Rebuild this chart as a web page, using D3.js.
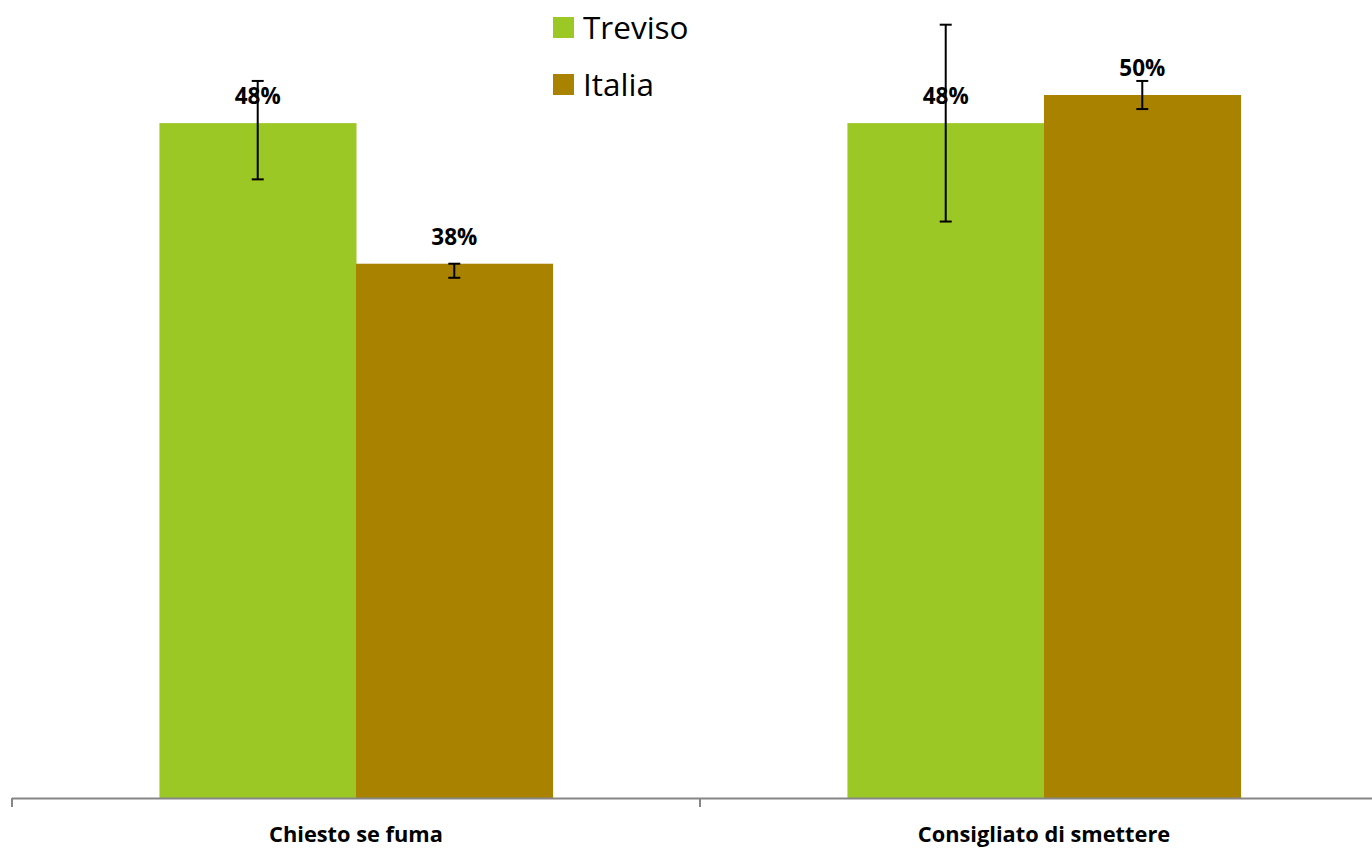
<!DOCTYPE html>
<html>
<head>
<meta charset="utf-8">
<script src="https://cdn.jsdelivr.net/npm/d3@7"></script>
<style>
  html, body { margin: 0; padding: 0; background: #fff; }
  svg { display: block; }
</style>
</head>
<body>
<svg id="chart" width="1372" height="848"></svg>
<script>
const categories = ["Chiesto se fuma", "Consigliato di smettere"];
const seriesNames = ["Treviso", "Italia"];
const trevisoValues = [48, 48];
const italiaValues = [38, 50];
const trevisoLow = [44, 41];
const trevisoHigh = [51, 55];
const italiaLow = [37, 49];
const italiaHigh = [38, 51];
const seriesColors = ["#9BC824", "#A98200"];

const values = [trevisoValues, italiaValues];
const lows = [trevisoLow, italiaLow];
const highs = [trevisoHigh, italiaHigh];

const svg = d3.select("#chart");
const baseY = 798;

const x0 = d3.scaleBand().domain(categories).range([12, 1388]).paddingInner(0).paddingOuter(0);
const x1 = d3.scaleBand().domain(seriesNames).range([0, x0.bandwidth()]).paddingInner(0).paddingOuter(0.75);
const y = d3.scaleLinear().domain([0, 55]).range([baseY, baseY - 55 * 14.06]);

const data = [];
categories.forEach((c, ci) => {
  seriesNames.forEach((s, si) => {
    data.push({cat: c, series: s, si, value: values[si][ci], lo: lows[si][ci], hi: highs[si][ci]});
  });
});

// bars
svg.append("g").selectAll("rect").data(data).join("rect")
  .attr("x", d => x0(d.cat) + x1(d.series))
  .attr("y", d => y(d.value))
  .attr("width", x1.bandwidth() + 0.5)
  .attr("height", d => y(0) - y(d.value))
  .attr("fill", d => seriesColors[d.si]);

// axis
const axis = d3.axisBottom(x0).tickSize(8).tickFormat("");
const ax = svg.append("g").attr("transform", `translate(0,${baseY})`).call(axis);
ax.select(".domain").attr("stroke", "#868686").attr("stroke-width", 2).attr("d", `M12,0.5H1388`);
ax.selectAll(".tick").remove();
const bounds = [x0(categories[0]), x0(categories[1])];
ax.selectAll("line.bt").data(bounds).join("line").attr("class", "bt")
  .attr("x1", d => d).attr("x2", d => d).attr("y1", 0).attr("y2", 9)
  .attr("stroke", "#868686").attr("stroke-width", 2);

// category labels
svg.append("g").selectAll("text").data(categories).join("text")
  .attr("x", d => x0(d) + x0.bandwidth() / 2)
  .attr("y", 842)
  .attr("text-anchor", "middle")
  .attr("font-family", "'Open Sans', sans-serif")
  .attr("font-weight", "bold")
  .attr("font-size", 21.8)
  .attr("fill", "#000")
  .text(d => d);

// error bars
const eg = svg.append("g").attr("stroke", "#000").attr("stroke-width", 2);
data.forEach(d => {
  const cx = x0(d.cat) + x1(d.series) + x1.bandwidth() / 2;
  eg.append("line").attr("x1", cx).attr("x2", cx).attr("y1", y(d.hi)).attr("y2", y(d.lo));
  eg.append("line").attr("x1", cx - 6).attr("x2", cx + 6).attr("y1", y(d.hi)).attr("y2", y(d.hi));
  eg.append("line").attr("x1", cx - 6).attr("x2", cx + 6).attr("y1", y(d.lo)).attr("y2", y(d.lo));
});

// value labels
svg.append("g").selectAll("text").data(data).join("text")
  .attr("x", d => x0(d.cat) + x1(d.series) + x1.bandwidth() / 2)
  .attr("y", d => y(d.value) - 19)
  .attr("text-anchor", "middle")
  .attr("font-family", "'Open Sans', sans-serif")
  .attr("font-weight", "bold")
  .attr("font-size", 22.5)
  .attr("fill", "#000")
  .text(d => d.value + "%");

// legend
const lg = svg.append("g");
seriesNames.forEach((s, i) => {
  lg.append("rect").attr("x", 553).attr("y", 17 + i * 57).attr("width", 21).attr("height", 21).attr("fill", seriesColors[i]);
  lg.append("text").attr("x", 583).attr("y", 39 + i * 57)
    .attr("font-family", "'Open Sans', sans-serif").attr("font-size", 31.5).attr("fill", "#000").text(s);
});
</script>
</body>
</html>
